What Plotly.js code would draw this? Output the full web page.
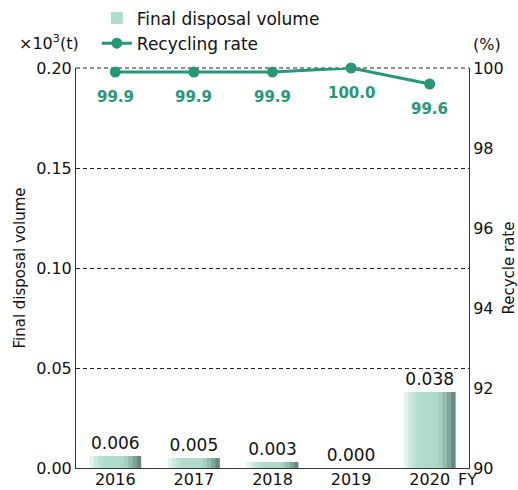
<!DOCTYPE html>
<html><head><meta charset="utf-8">
<script src="https://cdn.plot.ly/plotly-3.0.1.min.js"></script>
<style>body{margin:0;padding:0;background:#fff}#chart{width:518px;height:490px}</style>
</head><body><div id="chart"></div>
<script>
const years = [2016, 2017, 2018, 2019, 2020];
const yearLabels = ['2016', '2017', '2018', '2019', '2020'];
const disposal = [0.006, 0.005, 0.003, 0.000, 0.038];
const disposalLabels = ['0.006', '0.005', '0.003', '0.000', '0.038'];
const recycling = [99.9, 99.9, 99.9, 100.0, 99.6];
const recyclingLabels = ['99.9', '99.9', '99.9', '100.0', '99.6'];

const FONT = 'DejaVu Sans, sans-serif';
const TEAL = '#27977a';
const INK = '#111';

// horizontal gradient slices for bars
const sliceColors = ['#e4f2ec','#cde9de','#bce2d4','#b2ddcd','#b0dccb','#b0dccb','#b0dccb','#aed9c8','#a5cfbf','#94bcad','#7ea597','#668b80'];
const totalW = 0.66;
const sw = totalW / sliceColors.length;
const traces = [];
sliceColors.forEach((c, i) => {
  const last = i === sliceColors.length - 1;
  traces.push({
    type: 'bar', x: years, y: disposal,
    width: last ? sw : sw * 1.6, offset: -totalW / 2 + i * sw,
    marker: {color: c, line: {width: 0}},
    name: 'Final disposal volume',
    showlegend: i === 5, legendgroup: 'bars', hoverinfo: 'skip'
  });
});
traces.push({
  type: 'bar', x: years, y: disposal, width: totalW,
  marker: {color: 'rgba(0,0,0,0)'},
  text: disposalLabels, textposition: 'outside', cliponaxis: false,
  textfont: {family: FONT, size: 17, color: INK},
  showlegend: false, hoverinfo: 'skip'
});
traces.push({
  type: 'scatter', mode: 'lines+markers', x: years, y: recycling, yaxis: 'y2',
  line: {color: TEAL, width: 3}, marker: {color: TEAL, size: 11},
  name: 'Recycling rate', cliponaxis: false
});

const annotations = years.map((yr, i) => ({
  x: yr, y: recycling[i], xref: 'x', yref: 'y2', text: '<b>' + recyclingLabels[i] + '</b>',
  showarrow: false, yshift: -25, font: {family: FONT, size: 15, color: TEAL}
}));
annotations.push({xref: 'paper', yref: 'paper', x: -0.069, y: 1.065, text: '×10<sup>3</sup>(t)', showarrow: false, xanchor: 'center', yanchor: 'middle', font: {family: FONT, size: 16, color: INK}});
annotations.push({xref: 'paper', yref: 'paper', x: 1.046, y: 1.0575, text: '(%)', showarrow: false, xanchor: 'center', yanchor: 'middle', font: {family: FONT, size: 16, color: INK}});
annotations.push({xref: 'paper', yref: 'paper', x: 0.997, y: -0.028, text: 'FY', showarrow: false, xanchor: 'center', yanchor: 'middle', font: {family: FONT, size: 16, color: INK}});

const layout = {
  width: 518, height: 490,
  margin: {l: 76, r: 49, t: 68, b: 22},
  paper_bgcolor: '#fff', plot_bgcolor: '#fff',
  font: {family: FONT, size: 16, color: INK},
  barmode: 'overlay',
  showlegend: true,
  legend: {x: 0.053, xref: 'paper', y: 0.999, yref: 'container', xanchor: 'left', yanchor: 'top', orientation: 'v', font: {family: FONT, size: 17, color: INK}, bgcolor: 'rgba(0,0,0,0)', tracegroupgap: 0, itemwidth: 30},
  xaxis: {automargin: false, range: [2015.5, 2020.5], tickvals: years, ticktext: yearLabels, ticklabelstandoff: -3, showline: true, linecolor: '#333', linewidth: 1, ticks: '', showgrid: false, zeroline: false, tickfont: {family: FONT, size: 16, color: INK}},
  yaxis: {automargin: false, range: [0, 0.2], dtick: 0.05, tickformat: '.2f', showline: true, linecolor: '#333', linewidth: 1, ticks: '',
    showgrid: true, gridcolor: '#222', griddash: '4px,3px', gridwidth: 1, zeroline: false,
    title: {text: 'Final disposal volume', font: {family: FONT, size: 15, color: INK}, standoff: 6},
    tickfont: {family: FONT, size: 16, color: INK}},
  yaxis2: {automargin: false, range: [90, 100], dtick: 2, overlaying: 'y', side: 'right', showline: true, linecolor: '#333', linewidth: 1,
    ticks: '', showgrid: false, zeroline: false,
    title: {text: 'Recycle rate', font: {family: FONT, size: 15, color: INK}, standoff: 6},
    tickfont: {family: FONT, size: 16, color: INK}},
  shapes: [{type: 'line', xref: 'paper', yref: 'paper', x0: 0, x1: 1, y0: 1, y1: 1, line: {color: '#222', width: 1, dash: '4px,3px'}, layer: 'below'}],
  annotations: annotations
};
Plotly.newPlot('chart', traces, layout, {displayModeBar: false, staticPlot: true});
</script></body></html>
